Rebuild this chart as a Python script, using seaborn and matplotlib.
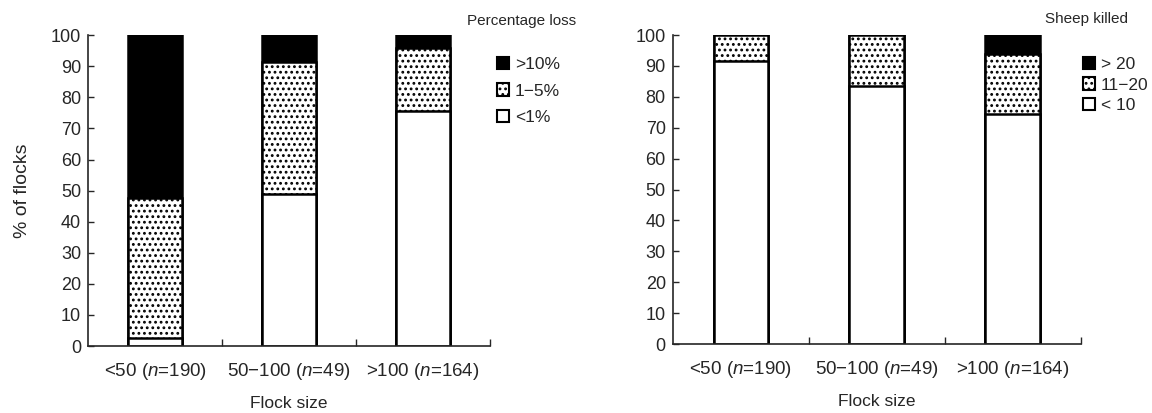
import matplotlib
matplotlib.use("Agg")
import matplotlib.pyplot as plt
from matplotlib.patches import Patch
import seaborn as sns

# Flock-size groups shared by both panels
categories = ["<50 ($n$=190)", "50\u2212100 ($n$=49)", ">100 ($n$=164)"]

# Panel A: percentage loss (% of flocks)
loss_labels = [">10%", "1\u22125%", "<1%"]
loss_low = [2.7, 49.0, 75.5]      # <1%
loss_mid = [44.8, 42.5, 20.5]     # 1-5%
loss_high = [52.5, 8.5, 4.0]      # >10%

# Panel B: sheep killed (% of flocks)
kill_labels = ["> 20", "11\u221220", "< 10"]
kill_low = [91.5, 83.5, 74.5]     # < 10
kill_mid = [8.5, 16.5, 19.5]      # 11-20
kill_high = [0.0, 0.0, 6.0]       # > 20

sns.set_style("ticks")
plt.rcParams["font.family"] = ["Liberation Sans", "DejaVu Sans"]
plt.rcParams["mathtext.fontset"] = "custom"
plt.rcParams["mathtext.it"] = "Liberation Sans:italic"
plt.rcParams["mathtext.rm"] = "Liberation Sans"
plt.rcParams["hatch.linewidth"] = 1.25
plt.rcParams["hatch.color"] = "black"

fig = plt.figure(figsize=(11.52, 4.13), dpi=100)
ax1 = fig.add_axes([0.0764, 0.162, 0.349, 0.753])
ax2 = fig.add_axes([0.584, 0.167, 0.354, 0.748])

styles = [
    dict(color="black", hatch=None),
    dict(color="white", hatch="..."),
    dict(color="white", hatch=None),
]


def stacked(ax, low, mid, high):
    tops = [
        [a + b + c for a, b, c in zip(low, mid, high)],
        [a + b for a, b in zip(low, mid)],
        list(low),
    ]
    for vals, st in zip(tops, styles):
        sns.barplot(x=categories, y=vals, order=categories, ax=ax,
                    color=st["color"], hatch=st["hatch"],
                    edgecolor="black", linewidth=1.8, width=0.4,
                    saturation=1, errorbar=None)
    ax.set_ylim(0, 100)
    ax.set_xlim(-0.5, 2.5)
    ax.set_yticks(range(0, 101, 10))
    ax.tick_params(axis="y", labelsize=13, length=4, width=1,
                   direction="in", pad=5)
    ax.tick_params(axis="x", which="major", length=0, labelsize=13.5, pad=11)
    ax.set_xticks([0.5, 1.5, 2.5], minor=True)
    ax.tick_params(axis="x", which="minor", direction="in", length=5, width=1)
    for side in ("top", "right"):
        ax.spines[side].set_visible(False)
    for side in ("left", "bottom"):
        ax.spines[side].set_linewidth(1.2)
    ax.set_xlabel("Flock size", fontsize=12.5, labelpad=10)


stacked(ax1, loss_low, loss_mid, loss_high)
stacked(ax2, kill_low, kill_mid, kill_high)
ax1.set_ylabel("% of flocks", fontsize=14, labelpad=14)
ax2.set_ylabel("")


def key(title, labels, tx, ty, lx, ly, spacing):
    handles = [Patch(facecolor=st["color"], hatch=st["hatch"],
                     edgecolor="black", linewidth=1.5) for st in styles]
    fig.text(tx, ty, title, fontsize=11, ha="left", va="center")
    leg = fig.legend(handles, labels, loc="upper left",
                     bbox_to_anchor=(lx, ly), frameon=False,
                     handlelength=0.7, handleheight=0.7,
                     handletextpad=0.35, labelspacing=spacing, fontsize=12.5,
                     borderaxespad=0, borderpad=0)
    return leg


key("Percentage loss", loss_labels, 0.405, 0.950, 0.431, 0.862, 0.65)
key("Sheep killed", kill_labels, 0.907, 0.955, 0.940, 0.862, 0.3)

fig.savefig("out.png", dpi=100)
